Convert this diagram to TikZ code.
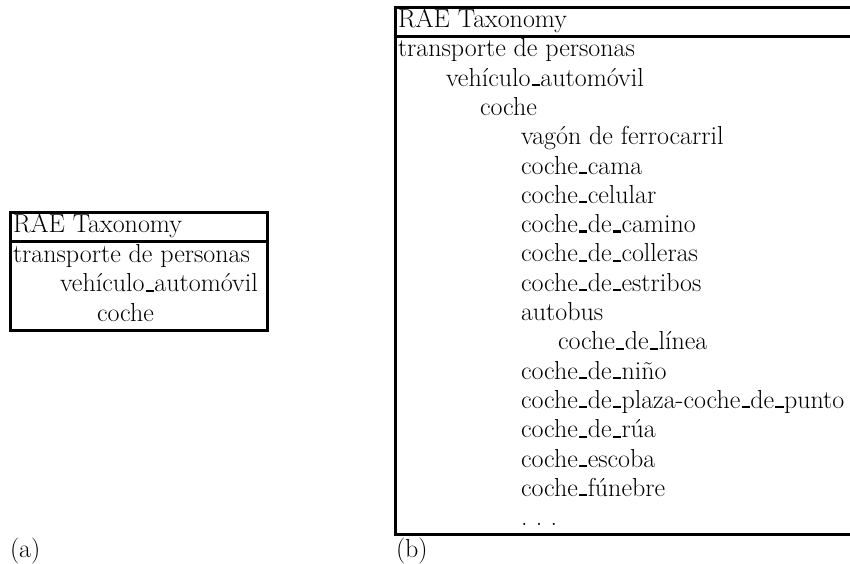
\documentclass[tikz,border=0pt]{standalone}
\newcommand\us{\kern.05em\vrule width .31em height .085em depth 0pt\kern.02em\relax}
\newcommand\mydots{.\kern.32em.\kern.32em.}
\begin{document}
\begin{tikzpicture}[x=1pt,y=-1pt,
  every node/.style={inner sep=0pt, outer sep=0pt, anchor=base west,
    font=\fontsize{26}{29.5}\selectfont},
  rule/.style={line width=3pt}]
\useasboundingbox (0,0) rectangle (850,563);
% ---------- (a) ----------
\draw[rule] (10,212) rectangle (267,330.5);
\draw[rule] (10,241.6) -- (267,241.6);
\node (ah) at (13,232.7) {RAE Taxonomy};
\node (a0) at (13,262.3) {transporte de personas};
\node (a1) at (60,291.9) {vehículo\us automóvil};
\node (a2) at (97,321.5) {coche};
\node (la) at (10,557) {(a)};
% ---------- (b) ----------
\draw[rule] (850,7) -- (395,7) -- (395,534.4) -- (850,534.4);
\draw[rule] (395,36.3) -- (850,36.3);
\node (bh) at (398,27.5) {RAE Taxonomy};
\node (b0)  at (398,56.8) {transporte de personas};
\node (b1)  at (446,86.1) {vehículo\us automóvil};
\node (b2)  at (480,115.4) {coche};
\node (b3)  at (521,144.7) {vagón de ferrocarril};
\node (b4)  at (521,174.0) {coche\us cama};
\node (b5)  at (521,203.3) {coche\us celular};
\node (b6)  at (521,232.6) {coche\us de\us camino};
\node (b7)  at (521,261.9) {coche\us de\us colleras};
\node (b8)  at (521,291.2) {coche\us de\us estribos};
\node (b9)  at (521,320.5) {autobus};
\node (b10) at (558,349.8) {coche\us de\us línea};
\node (b11) at (521,379.1) {coche\us de\us niño};
\node (b12) at (521,408.4) {coche\us de\us plaza-coche\us de\us punto};
\node (b13) at (521,437.7) {coche\us de\us rúa};
\node (b14) at (521,467.0) {coche\us escoba};
\node (b15) at (521,496.3) {coche\us fúnebre};
\node (b16) at (521,525.6) {\mydots};
\node (lb) at (396,557) {(b)};
\end{tikzpicture}
\end{document}
